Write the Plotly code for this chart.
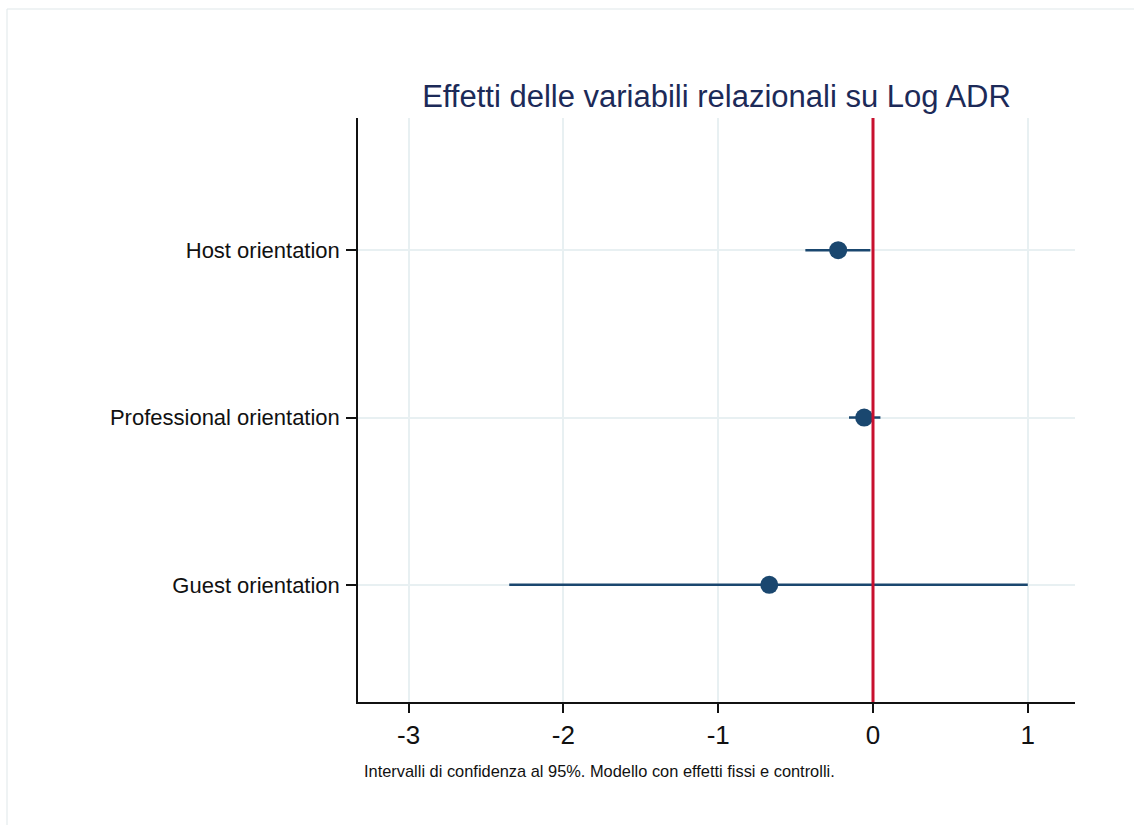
import plotly.graph_objects as go

# Data
categories = ["Host orientation", "Professional orientation", "Guest orientation"]
estimates = [-0.225, -0.057, -0.67]
ci_low = [-0.437, -0.155, -2.35]
ci_high = [-0.017, 0.048, 1.00]
x_ticks = [-3, -2, -1, 0, 1]
x_tick_labels = ["-3", "-2", "-1", "0", "1"]
ref_value = 0
title_text = "Effetti delle variabili relazionali su Log ADR"
note_text = "Intervalli di confidenza al 95%. Modello con effetti fissi e controlli."

W, H = 1134, 825
L, R, T, B = 358, 1075, 118, 702

navy = "#1a476f"
grid_col = "#e8f0f2"
FONT = "Liberation Sans, Arial, sans-serif"

err_plus = [h - e for h, e in zip(ci_high, estimates)]
err_minus = [e - l for e, l in zip(estimates, ci_low)]

fig = go.Figure()
fig.add_trace(go.Scatter(
    x=estimates, y=categories, mode="markers",
    marker=dict(color=navy, size=18, line=dict(width=0)),
    error_x=dict(type="data", symmetric=False, array=err_plus, arrayminus=err_minus,
                 color=navy, thickness=2.5, width=0),
    showlegend=False, cliponaxis=False,
))

def px_x(p):
    return (p - L) / (R - L)

def px_y(p):
    return (B - p) / (B - T)

fig.add_shape(type="line", xref="x", yref="paper", x0=ref_value, x1=ref_value, y0=0, y1=1,
              line=dict(color="#c8102e", width=3), layer="above")

# outer graph region outline (light)
fig.add_shape(type="rect", xref="paper", yref="paper",
              x0=px_x(7), x1=px_x(W + 20), y0=px_y(9), y1=px_y(H + 20),
              line=dict(color="#dfe7e9", width=1), layer="below")

fig.add_annotation(text=note_text, xref="paper", yref="paper", x=px_x(362), y=px_y(771),
                   xanchor="left", yanchor="middle", showarrow=False,
                   font=dict(family=FONT, size=16.4, color="#111111"))

fig.update_layout(
    width=W, height=H,
    margin=dict(l=L, r=W - R, t=T, b=H - B, pad=0),
    paper_bgcolor="white", plot_bgcolor="white",
    title=dict(text=title_text, x=(L + R) / 2 / W, xanchor="center", y=1 - 96 / H, yanchor="middle",
               font=dict(family=FONT, size=31, color="#1c2a58")),
    font=dict(family=FONT, color="#111111"),
    xaxis=dict(range=[-3.327, 1.305], tickvals=x_ticks, ticktext=x_tick_labels,
               showgrid=True, gridcolor=grid_col, gridwidth=1.5, zeroline=False,
               showline=True, linecolor="#111111", linewidth=1.5,
               ticks="outside", ticklen=9, tickwidth=1.5, tickcolor="#111111",
               tickfont=dict(size=26, color="#111111")),
    yaxis=dict(type="category", categoryorder="array", categoryarray=categories[::-1],
               range=[-0.70, 2.79],
               showgrid=True, gridcolor=grid_col, gridwidth=1.5, zeroline=False,
               showline=True, linecolor="#111111", linewidth=1.5,
               ticks="outside", ticklen=10, tickwidth=1.5, tickcolor="#111111",
               ticklabelstandoff=2,
               tickfont=dict(size=22, color="#111111")),
)

fig.write_html("out.html")
